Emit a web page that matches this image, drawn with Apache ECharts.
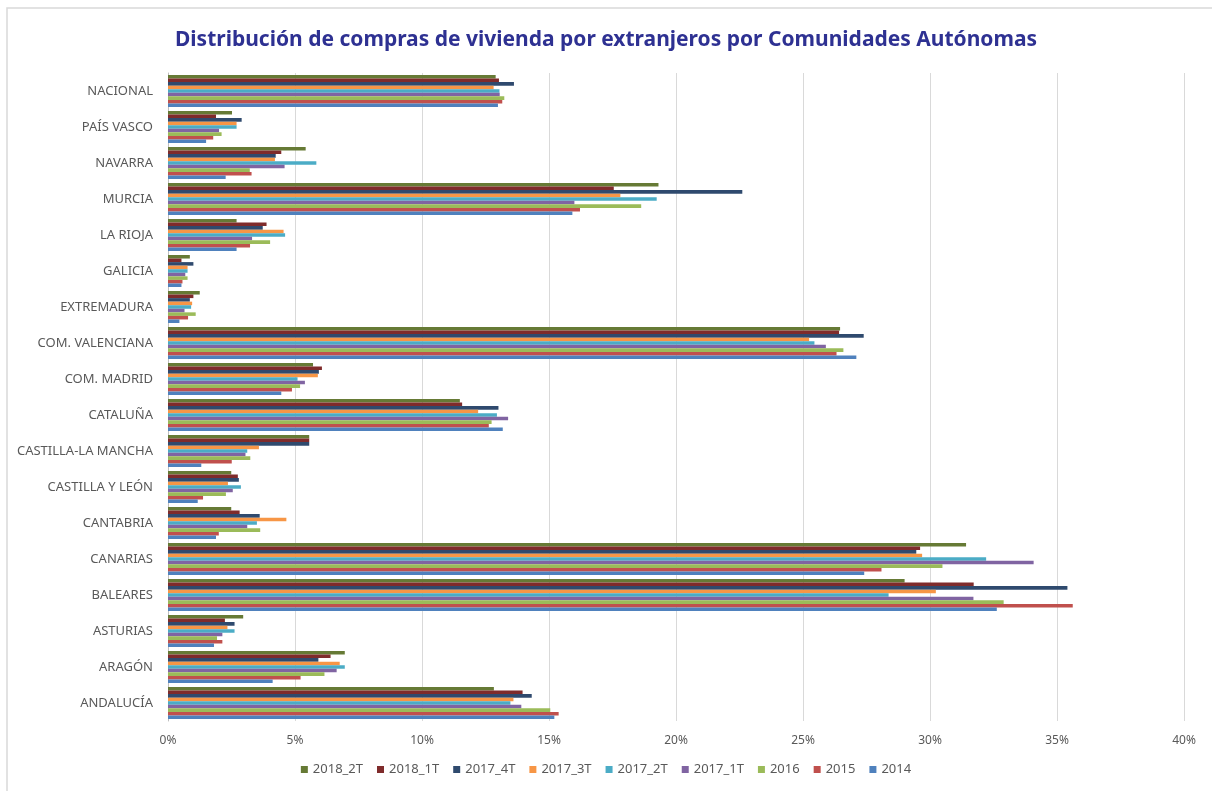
<!DOCTYPE html>
<html>
<head>
<meta charset="utf-8">
<script src="https://cdn.jsdelivr.net/npm/echarts@6/dist/echarts.min.js"></script>
<style>
  html, body { margin: 0; padding: 0; background: #fff; }
  #chart { width: 1212px; height: 791px; }
</style>
</head>
<body>
<div id="chart"></div>
<script>
// comunidades, de abajo (ANDALUCÍA) a arriba (NACIONAL)
var categories = ['ANDALUCÍA', 'ARAGÓN', 'ASTURIAS', 'BALEARES', 'CANARIAS', 'CANTABRIA',
  'CASTILLA Y LEÓN', 'CASTILLA-LA MANCHA', 'CATALUÑA', 'COM. MADRID', 'COM. VALENCIANA',
  'EXTREMADURA', 'GALICIA', 'LA RIOJA', 'MURCIA', 'NAVARRA', 'PAÍS VASCO', 'NACIONAL']

var seriesNames = ['2018_2T', '2018_1T', '2017_4T', '2017_3T', '2017_2T', '2017_1T', '2016', '2015', '2014']
var seriesColors = ['#667A35', '#7F2B2B', '#2F4A6E', '#F79646', '#4BACC6', '#8064A2', '#9BBB59', '#C0504D', '#4F81BD']

// valores en %
var v2018_2T = [12.83, 6.96, 2.96, 29.0, 31.42, 2.49, 2.49, 5.56, 11.49, 5.71, 26.46, 1.25, 0.86, 2.70, 19.31, 5.42, 2.52, 12.90]
var v2018_1T = [13.96, 6.40, 2.24, 31.72, 29.61, 2.82, 2.75, 5.56, 11.58, 6.06, 26.42, 1.00, 0.53, 3.88, 17.55, 4.46, 1.89, 13.03]
var v2017_4T = [14.32, 5.92, 2.62, 35.41, 29.46, 3.61, 2.79, 5.56, 13.01, 5.94, 27.39, 0.86, 1.00, 3.73, 22.61, 4.24, 2.90, 13.62]
var v2017_3T = [13.60, 6.76, 2.34, 30.23, 29.69, 4.66, 2.36, 3.58, 12.21, 5.90, 25.24, 0.95, 0.77, 4.55, 17.81, 4.21, 2.70, 12.82]
var v2017_2T = [13.48, 6.96, 2.62, 28.37, 32.21, 3.50, 2.87, 3.12, 12.95, 5.10, 25.45, 0.91, 0.77, 4.61, 19.24, 5.84, 2.70, 13.05]
var v2017_1T = [13.91, 6.64, 2.14, 31.71, 34.08, 3.12, 2.55, 3.05, 13.39, 5.39, 25.90, 0.65, 0.68, 3.31, 16.00, 4.59, 2.01, 13.06]
var v2016 = [15.05, 6.16, 1.93, 32.90, 30.49, 3.63, 2.28, 3.24, 12.74, 5.20, 26.59, 1.09, 0.77, 4.02, 18.63, 3.22, 2.11, 13.24]
var v2015 = [15.38, 5.22, 2.14, 35.62, 28.09, 2.00, 1.38, 2.51, 12.63, 4.88, 26.32, 0.79, 0.57, 3.23, 16.22, 3.29, 1.78, 13.16]
var v2014 = [15.21, 4.12, 1.81, 32.63, 27.41, 1.89, 1.17, 1.31, 13.18, 4.46, 27.10, 0.45, 0.53, 2.70, 15.92, 2.27, 1.50, 12.99]

var seriesValues = [v2018_2T, v2018_1T, v2017_4T, v2017_3T, v2017_2T, v2017_1T, v2016, v2015, v2014]

var xTicks = [0, 5, 10, 15, 20, 25, 30, 35, 40]

var myChart = echarts.init(document.getElementById('chart'))

var series = seriesNames.map(function (name, i) {
  return {
    name: name,
    type: 'bar',
    data: seriesValues[i],
    barGap: '0%',
    barCategoryGap: '11%',
    itemStyle: { color: seriesColors[i] }
  }
})

var option = {
  backgroundColor: '#fff',
  animation: false,
  textStyle: { fontFamily: 'Noto Sans' },
  title: {
    text: 'Distribución de compras de vivienda por extranjeros por Comunidades Autónomas',
    left: 'center',
    top: 25,
    textStyle: { color: '#2E3192', fontSize: 21, fontWeight: 'bold', fontFamily: 'Noto Sans' }
  },
  graphic: [{
    type: 'rect',
    shape: { x: 7, y: 8, width: 1220, height: 800 },
    style: { fill: 'none', stroke: '#d9d9d9', lineWidth: 1.5 },
    silent: true
  }],
  legend: {
    data: seriesNames,
    bottom: 10,
    left: 'center',
    itemWidth: 7,
    itemHeight: 7,
    itemGap: 14,
    icon: 'rect',
    textStyle: { color: '#595959', fontSize: 13 }
  },
  grid: { left: 168, right: 28, top: 73, bottom: 70 },
  xAxis: {
    type: 'value',
    min: 0,
    max: 40,
    interval: 5,
    axisLine: { show: false },
    axisTick: { show: false },
    splitLine: { lineStyle: { color: '#d9d9d9' } },
    axisLabel: {
      color: '#595959',
      fontSize: 12,
      margin: 14,
      formatter: function (v) { return xTicks.indexOf(v) >= 0 ? v + '%' : '' }
    }
  },
  yAxis: {
    type: 'category',
    data: categories,
    axisLine: { lineStyle: { color: '#bfbfbf' } },
    axisTick: { show: false },
    axisLabel: { color: '#595959', fontSize: 13, margin: 15 }
  },
  series: series
}

myChart.setOption(option)
</script>
</body>
</html>
